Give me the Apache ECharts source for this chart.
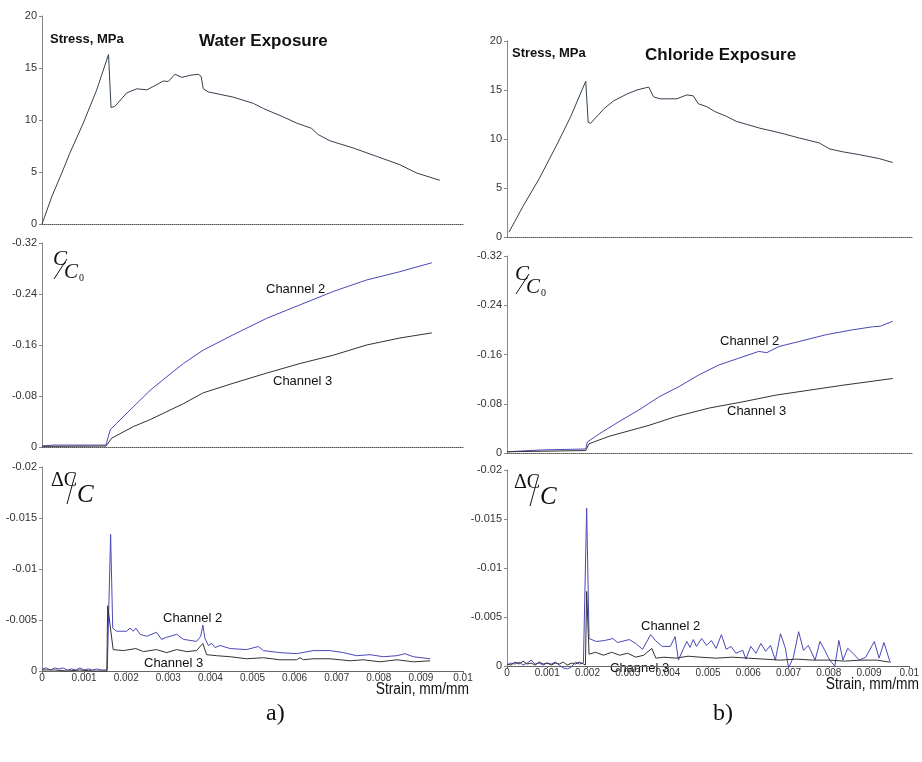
<!DOCTYPE html>
<html>
<head>
<meta charset="utf-8">
<script src="https://cdn.jsdelivr.net/npm/echarts@6/dist/echarts.min.js"></script>
<style>
  html, body { margin: 0; padding: 0; background: #fff; }
  #chart { width: 922px; height: 762px; }
</style>
</head>
<body>
<div id="chart"></div>
<script>
// strain axis ticks (shared by all panels)
const strainTicks = [0, 0.001, 0.002, 0.003, 0.004, 0.005, 0.006, 0.007, 0.008, 0.009, 0.01]

// stress, MPa vs strain
const stressWater = [
  [0, 0], [0.00023, 2.6], [0.00047, 4.9], [0.00066, 6.8], [0.00098, 9.7], [0.0013, 12.9],
  [0.00158, 16.3], [0.00164, 11.2], [0.00173, 11.3], [0.00201, 12.6], [0.00225, 13.0],
  [0.00249, 12.9], [0.00268, 13.3], [0.00288, 13.75], [0.003, 13.7], [0.00316, 14.4],
  [0.00332, 14.1], [0.00352, 14.3], [0.00371, 14.4], [0.00378, 14.2], [0.00383, 13.0],
  [0.00395, 12.7], [0.00454, 12.2], [0.00502, 11.6], [0.00526, 11.1], [0.00573, 10.3],
  [0.00605, 9.7], [0.0064, 9.2], [0.00656, 8.6], [0.00684, 8.0], [0.0074, 7.3],
  [0.00795, 6.5], [0.0085, 5.7], [0.0089, 4.9], [0.00945, 4.2]
]
const stressChloride = [
  [0.00005, 0.5], [0.00039, 3.1], [0.0008, 6.0], [0.00125, 9.6], [0.00157, 12.3],
  [0.00194, 15.9], [0.002, 11.7], [0.00206, 11.6], [0.00239, 13.1], [0.00263, 13.9],
  [0.00296, 14.6], [0.0032, 15.0], [0.00349, 15.3], [0.00361, 14.3], [0.00377, 14.1],
  [0.00418, 14.1], [0.00443, 14.5], [0.00459, 14.4], [0.00471, 13.6], [0.00492, 13.3],
  [0.00512, 12.8], [0.00541, 12.3], [0.00565, 11.8], [0.0059, 11.5], [0.00623, 11.1],
  [0.00655, 10.8], [0.00684, 10.5], [0.0072, 10.1], [0.00769, 9.6], [0.00794, 9.0],
  [0.00826, 8.7], [0.00868, 8.4], [0.00917, 8.0], [0.0095, 7.6]
]

// C/C0, water exposure
const ccWaterCh2 = [
  [0, -0.0015], [0.00026, -0.003], [0.00152, -0.003], [0.00162, -0.027], [0.00177, -0.037],
  [0.00217, -0.063], [0.00257, -0.089], [0.00296, -0.110], [0.00336, -0.131], [0.00383, -0.152],
  [0.00454, -0.176], [0.00534, -0.202], [0.00613, -0.223], [0.00692, -0.244], [0.00771, -0.262],
  [0.0085, -0.275], [0.00926, -0.289]
]
const ccWaterCh3 = [
  [0, -0.001], [0.00152, -0.0015], [0.00166, -0.014], [0.00217, -0.032], [0.00257, -0.043],
  [0.00336, -0.068], [0.00383, -0.085], [0.00454, -0.100], [0.00534, -0.116], [0.00613, -0.131],
  [0.00692, -0.144], [0.00771, -0.160], [0.0085, -0.171], [0.00926, -0.179]
]
// C/C0, chloride exposure
const ccChlorideCh2 = [
  [0, -0.002], [0.00087, -0.005], [0.00194, -0.0065], [0.00198, -0.018], [0.00227, -0.031],
  [0.00276, -0.051], [0.00325, -0.070], [0.00374, -0.091], [0.00424, -0.108], [0.00473, -0.127],
  [0.00522, -0.143], [0.00571, -0.154], [0.0062, -0.165], [0.0064, -0.163], [0.0067, -0.173],
  [0.00719, -0.181], [0.00785, -0.192], [0.0085, -0.200], [0.009, -0.205], [0.0092, -0.206],
  [0.0095, -0.214]
]
const ccChlorideCh3 = [
  [0, -0.002], [0.00194, -0.004], [0.00202, -0.015], [0.00251, -0.027], [0.0035, -0.045],
  [0.00415, -0.059], [0.00498, -0.073], [0.0058, -0.083], [0.00662, -0.094], [0.00744, -0.102],
  [0.00826, -0.110], [0.0095, -0.121]
]

// dC/C, water exposure
const dcWaterCh2 = [
  [0, -0.0002], [0.0001, -0.0003], [0.0002, -0.0001], [0.0003, -0.0003], [0.0004, -0.0002],
  [0.0005, -0.0003], [0.0006, -0.0001], [0.0007, -0.0002], [0.0008, -0.0001], [0.0009, -0.0003],
  [0.001, -0.0001], [0.0011, -0.0002], [0.0012, -0.0001], [0.0013, -0.0002], [0.0014, -0.0001],
  [0.00155, -0.0001], [0.00163, -0.0134], [0.00168, -0.0042], [0.00177, -0.0039],
  [0.00201, -0.0039], [0.00209, -0.0042], [0.00217, -0.0039], [0.00223, -0.0042],
  [0.00233, -0.0036], [0.00249, -0.0034], [0.00272, -0.0038], [0.00284, -0.0031],
  [0.00296, -0.0033], [0.00304, -0.0034], [0.0032, -0.0036], [0.00336, -0.0031],
  [0.00367, -0.0029], [0.00377, -0.0034], [0.00382, -0.0045], [0.00387, -0.0032],
  [0.00395, -0.0025], [0.00403, -0.0027], [0.00411, -0.0023], [0.00423, -0.0025],
  [0.00447, -0.0022], [0.00486, -0.0021], [0.00514, -0.0024], [0.00526, -0.0020],
  [0.00565, -0.0018], [0.00605, -0.0017], [0.00644, -0.0020], [0.00684, -0.0020],
  [0.00716, -0.0018], [0.00747, -0.0015], [0.00779, -0.0016], [0.00811, -0.0014],
  [0.00843, -0.0015], [0.00862, -0.0017], [0.00882, -0.0014], [0.00922, -0.0012]
]
const dcWaterCh3 = [
  [0, -0.0001], [0.0003, -0.0001], [0.0006, 0], [0.0009, -0.0001], [0.0012, 0],
  [0.00154, 0], [0.00156, -0.0064], [0.00169, -0.0021], [0.00193, -0.0020], [0.00223, -0.0022],
  [0.00241, -0.0019], [0.00272, -0.0021], [0.00296, -0.0018], [0.0032, -0.0021],
  [0.00344, -0.0019], [0.00367, -0.0020], [0.00382, -0.0027], [0.00391, -0.0016],
  [0.00415, -0.0015], [0.00447, -0.0014], [0.00486, -0.0012], [0.00526, -0.0013],
  [0.00565, -0.0011], [0.00605, -0.0011], [0.00613, -0.0013], [0.00621, -0.0011],
  [0.00644, -0.0012], [0.00684, -0.0012], [0.00732, -0.0010], [0.00763, -0.0011],
  [0.00803, -0.0009], [0.00843, -0.0011], [0.00882, -0.0009], [0.00922, -0.0010]
]
// dC/C, chloride exposure
const dcChlorideCh2 = [
  [0, -0.0001], [0.0001, -0.0003], [0.0002, -0.0002], [0.0003, -0.0004], [0.0004, -0.0001],
  [0.0005, -0.0003], [0.0006, -0.0006], [0.0007, -0.0002], [0.0008, -0.0003], [0.0009, -0.0001],
  [0.001, -0.0003], [0.0011, -0.0002], [0.0012, -0.0004], [0.0013, -0.0001], [0.0014, 0.0002],
  [0.0015, 0.0003], [0.0016, 0.0001], [0.0017, -0.0004], [0.0018, -0.0002], [0.0019, -0.0003],
  [0.00193, -0.0002], [0.00198, -0.0161], [0.00204, -0.0028], [0.00222, -0.0025],
  [0.00243, -0.0026], [0.00263, -0.0028], [0.00275, -0.0024], [0.00304, -0.0027],
  [0.0032, -0.0023], [0.00337, -0.0017], [0.00357, -0.0032], [0.00369, -0.0026],
  [0.00386, -0.0020], [0.00406, -0.0020], [0.00418, -0.0030], [0.00426, -0.0006],
  [0.00439, -0.0018], [0.00447, -0.0025], [0.00455, -0.0019], [0.00463, -0.0027],
  [0.00471, -0.0020], [0.00484, -0.0028], [0.00496, -0.0021], [0.00508, -0.0026],
  [0.0052, -0.0018], [0.00533, -0.0032], [0.00545, -0.0017], [0.00557, -0.0020],
  [0.00569, -0.0013], [0.00586, -0.0016], [0.00594, -0.0007], [0.00606, -0.0020],
  [0.00619, -0.0013], [0.00631, -0.0023], [0.00643, -0.0015], [0.00655, -0.0021],
  [0.00667, -0.0006], [0.0068, -0.0033], [0.00692, -0.0018], [0.007, 0.0002],
  [0.00712, -0.0009], [0.00725, -0.0035], [0.00737, -0.0016], [0.00749, -0.0021],
  [0.00766, -0.0006], [0.00778, -0.0025], [0.0079, -0.0016], [0.00802, -0.0006],
  [0.00815, 0.0000], [0.00825, -0.0026], [0.00835, -0.0006], [0.00847, -0.0018],
  [0.0086, -0.0013], [0.00876, -0.0006], [0.00892, -0.0009], [0.00913, -0.0025],
  [0.00925, -0.0008], [0.00937, -0.0024], [0.00953, -0.0003]
]
const dcChlorideCh3 = [
  [0, -0.0002], [0.0001, -0.0001], [0.0002, -0.0004], [0.0003, -0.0002], [0.0004, -0.0005],
  [0.0005, -0.0002], [0.0006, -0.0003], [0.0007, -0.0001], [0.0008, -0.0004], [0.0009, -0.0002],
  [0.001, -0.0003], [0.0011, -0.0001], [0.0012, -0.0003], [0.0013, -0.0002], [0.0014, -0.0004],
  [0.0015, -0.0001], [0.0016, -0.0003], [0.0017, -0.0002], [0.0018, -0.0004], [0.0019, -0.0002],
  [0.00195, -0.0001], [0.00198, -0.0076], [0.00204, -0.0012], [0.0022, -0.0014],
  [0.0024, -0.0011], [0.0026, -0.0014], [0.0028, -0.0011], [0.003, -0.0013], [0.0032, -0.0009],
  [0.0034, -0.0011], [0.0036, -0.0018], [0.0037, -0.0008], [0.0039, -0.0009], [0.0042, -0.0008],
  [0.0045, -0.0010], [0.0048, -0.0009], [0.0052, -0.0008], [0.0056, -0.0009], [0.006, -0.0008],
  [0.0064, -0.0007], [0.0068, -0.0006], [0.0072, -0.0007], [0.0076, -0.0006], [0.008, -0.0006],
  [0.0084, -0.0005], [0.0088, -0.0006], [0.0092, -0.0006], [0.0095, -0.0004]
]

const blue = '#4a48b8'
const dark = '#333'
const stressColor = '#34404c'
const sans = '"Liberation Sans", Arial, sans-serif'
const serif = '"Liberation Serif", "Times New Roman", serif'

// panel boxes in pixels: [left, top, width, height]
const boxes = [
  [42, 16, 421, 208], [42, 243, 421, 204], [42, 467, 421, 204],
  [507, 41, 406, 196], [507, 256, 406, 197], [507, 470, 406, 196]
]

const chart = echarts.init(document.getElementById('chart'), null, { renderer: 'canvas' })

const grid = boxes.map(b => ({ left: b[0], top: b[1], width: b[2], height: b[3] }))

// strain axis: only the bottom panel of each column has labels
const xAxis = boxes.map((b, i) => {
  const bottom = i === 2 || i === 5
  return {
    type: 'value', gridIndex: i, min: strainTicks[0], max: strainTicks[strainTicks.length - 1],
    interval: 0.001,
    axisLine: { onZero: true, lineStyle: { color: bottom ? '#666' : '#555', width: 1, type: bottom ? 'solid' : [1, 1] } },
    axisTick: { show: bottom, length: 2, lineStyle: { color: '#666' } },
    axisLabel: { show: bottom, fontSize: 10, color: '#333', margin: 2, fontFamily: sans },
    splitLine: { show: false }
  }
})

const yBase = {
  type: 'value',
  axisLine: { show: true, lineStyle: { color: '#888', width: 1 } },
  axisTick: { show: true, length: 3, lineStyle: { color: '#888' } },
  axisLabel: { fontSize: 11, color: '#333', margin: 5, fontFamily: sans },
  splitLine: { show: false }
}
const yAxis = [
  Object.assign({}, yBase, { gridIndex: 0, min: 0, max: 20, interval: 5 }),
  Object.assign({}, yBase, { gridIndex: 1, min: -0.32, max: 0, interval: 0.08, inverse: true }),
  Object.assign({}, yBase, { gridIndex: 2, min: -0.02, max: 0, interval: 0.005, inverse: true }),
  Object.assign({}, yBase, { gridIndex: 3, min: 0, max: 20, interval: 5 }),
  Object.assign({}, yBase, { gridIndex: 4, min: -0.32, max: 0, interval: 0.08, inverse: true }),
  Object.assign({}, yBase, { gridIndex: 5, min: -0.02, max: 0, interval: 0.005, inverse: true })
]

function line(idx, data, color) {
  return {
    type: 'line', xAxisIndex: idx, yAxisIndex: idx, data: data,
    showSymbol: false, clip: false, animation: false,
    lineStyle: { color: color, width: 1 }
  }
}

const series = [
  line(0, stressWater, stressColor),
  line(1, ccWaterCh2, blue), line(1, ccWaterCh3, dark),
  line(2, dcWaterCh2, blue), line(2, dcWaterCh3, dark),
  line(3, stressChloride, stressColor),
  line(4, ccChlorideCh2, blue), line(4, ccChlorideCh3, dark),
  line(5, dcChlorideCh2, blue), line(5, dcChlorideCh3, dark)
]

// plain text helper
function txt(x, y, s, size, opts) {
  return {
    type: 'text', left: x, top: y,
    style: Object.assign({ text: s, fontSize: size, fontFamily: sans, fill: '#111' }, opts || {})
  }
}

// narrow axis title, squeezed horizontally
function narrow(x, y, s) {
  return {
    type: 'text', x: x, y: y, scaleX: 0.86,
    style: { text: s, fontSize: 16, fontFamily: sans, fill: '#111', align: 'right', verticalAlign: 'top' }
  }
}

// C/C0 fraction glyph
function ccGlyph(x, y) {
  return {
    type: 'group', x: x, y: y,
    children: [
      { type: 'text', x: 0, y: 0, style: { text: 'C', font: 'italic 21px ' + serif, fill: '#111' } },
      { type: 'line', shape: { x1: 14, y1: 10, x2: 1, y2: 30 }, style: { stroke: '#111', lineWidth: 1 } },
      { type: 'text', x: 11, y: 13, style: { text: 'C', font: 'italic 21px ' + serif, fill: '#111' } },
      { type: 'text', x: 26, y: 24, style: { text: '0', font: '10px ' + serif, fill: '#111' } }
    ]
  }
}

// dC/C fraction glyph
function dcGlyph(x, y) {
  return {
    type: 'group', x: x, y: y,
    children: [
      { type: 'text', x: 0, y: 2, style: { text: '\u0394C', font: '20px ' + serif, fill: '#111' } },
      { type: 'line', shape: { x1: 24, y1: 6, x2: 16, y2: 35 }, style: { stroke: '#111', lineWidth: 1 } },
      { type: 'text', x: 26, y: 14, style: { text: 'C', font: 'italic 25px ' + serif, fill: '#111' } }
    ]
  }
}

const graphic = [
  txt(50, 33, 'Stress, MPa', 13, { fontWeight: 'bold' }),
  txt(199, 33, 'Water Exposure', 17, { fontWeight: 'bold' }),
  txt(512, 47, 'Stress, MPa', 13, { fontWeight: 'bold' }),
  txt(645, 47, 'Chloride Exposure', 17, { fontWeight: 'bold' }),
  ccGlyph(53, 249),
  ccGlyph(515, 264),
  dcGlyph(51, 469),
  dcGlyph(514, 471),
  txt(266, 283, 'Channel 2', 13),
  txt(273, 375, 'Channel 3', 13),
  txt(720, 335, 'Channel 2', 13),
  txt(727, 405, 'Channel 3', 13),
  txt(163, 612, 'Channel 2', 13),
  txt(144, 657, 'Channel 3', 13),
  txt(641, 620, 'Channel 2', 13),
  txt(610, 662, 'Channel 3', 13),
  narrow(469, 682, 'Strain, mm/mm'),
  narrow(919, 677, 'Strain, mm/mm'),
  txt(266, 702, 'a)', 24, { fontFamily: serif }),
  txt(713, 702, 'b)', 24, { fontFamily: serif })
]

chart.setOption({
  animation: false,
  backgroundColor: '#fff',
  grid: grid,
  xAxis: xAxis,
  yAxis: yAxis,
  series: series,
  graphic: graphic
})
</script>
</body>
</html>
